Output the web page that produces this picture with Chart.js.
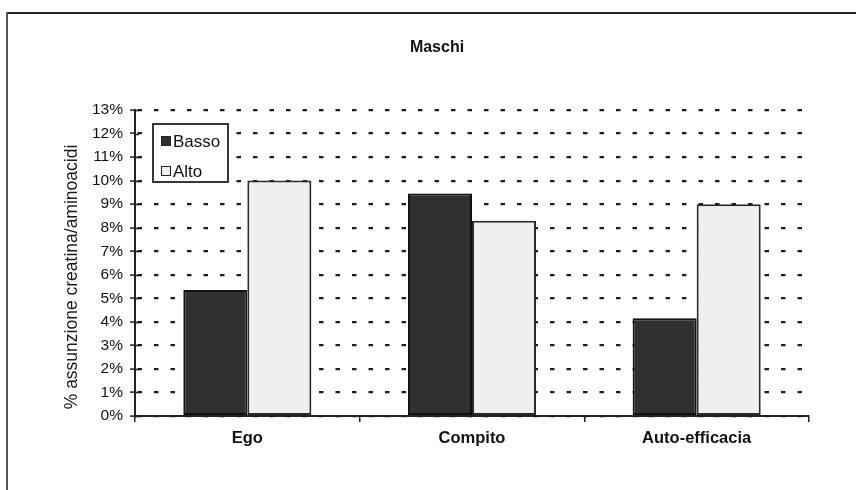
<!DOCTYPE html>
<html>
<head>
<meta charset="utf-8">
<script src="https://cdn.jsdelivr.net/npm/chart.js@4/dist/chart.umd.min.js"></script>
<style>
  html, body { margin: 0; padding: 0; background: #ffffff; }
  #wrap { width: 856px; height: 490px; position: relative; }
</style>
</head>
<body>
<div id="wrap"><canvas id="c" width="856" height="490"></canvas></div>
<script>
// Chart content
const chartTitle = 'Maschi';
const yAxisTitle = '% assunzione creatina/aminoacidi';
const categories = ['Ego', 'Compito', 'Auto-efficacia'];
const seriesNames = ['Basso', 'Alto'];
const bassoValues = [5.35, 9.45, 4.15];   // percent
const altoValues = [10.0, 8.3, 9.0];      // percent
const yTickValues = [0, 1, 2, 3, 4, 5, 6, 7, 8, 9, 10, 11, 12, 13];

const FONT = "'Liberation Sans', Arial, sans-serif";

// Frame, title, axis title, inner tick halves and boxed legend
const decorations = {
  id: 'decorations',
  beforeDraw(chart) {
    const ctx = chart.ctx;
    ctx.save();
    ctx.fillStyle = '#ffffff';
    ctx.fillRect(0, 0, chart.width, chart.height);
    ctx.strokeStyle = '#222222';
    ctx.lineWidth = 2;
    ctx.beginPath();
    ctx.moveTo(6, 13);
    ctx.lineTo(chart.width, 13);
    ctx.stroke();
    ctx.strokeStyle = '#555555';
    ctx.beginPath();
    ctx.moveTo(7, 12);
    ctx.lineTo(7, chart.height);
    ctx.stroke();
    ctx.restore();
  },
  afterDraw(chart) {
    const ctx = chart.ctx;
    const y = chart.scales.y;
    const area = chart.chartArea;
    ctx.save();
    // title
    ctx.fillStyle = '#111111';
    ctx.font = 'bold 16px ' + FONT;
    ctx.textAlign = 'center';
    ctx.textBaseline = 'middle';
    ctx.fillText(chartTitle, 437, 48);
    // y axis title
    ctx.save();
    ctx.translate(72, 277);
    ctx.rotate(-Math.PI / 2);
    ctx.font = '17.5px ' + FONT;
    ctx.fillStyle = '#1a1a1a';
    ctx.fillText(yAxisTitle, 0, 0);
    ctx.restore();
    // inner halves of the y tick marks
    ctx.strokeStyle = '#222222';
    ctx.lineWidth = 1.5;
    ctx.beginPath();
    yTickValues.forEach(v => {
      const py = Math.round(y.getPixelForValue(v)) + 0.5;
      ctx.moveTo(area.left, py);
      ctx.lineTo(area.left + 4, py);
    });
    ctx.stroke();
    // legend box
    const lx = 153, ly = 124, lw = 75, lh = 58;
    ctx.fillStyle = '#ffffff';
    ctx.fillRect(lx, ly, lw, lh);
    ctx.strokeStyle = '#222222';
    ctx.lineWidth = 1.8;
    ctx.strokeRect(lx, ly, lw, lh);
    ctx.font = '17px ' + FONT;
    ctx.textAlign = 'left';
    ctx.textBaseline = 'middle';
    chart.data.datasets.forEach((ds, i) => {
      const cy = 141 + i * 30;
      ctx.fillStyle = ds.backgroundColor;
      ctx.fillRect(161.5, cy - 4.5, 9, 9);
      ctx.strokeStyle = '#222222';
      ctx.lineWidth = 1;
      ctx.strokeRect(161.5, cy - 4.5, 9, 9);
      ctx.fillStyle = '#111111';
      ctx.fillText(ds.label, 173, cy + 1);
    });
    ctx.restore();
  }
};

new Chart(document.getElementById('c'), {
  type: 'bar',
  data: {
    labels: categories,
    datasets: [
      {
        label: seriesNames[0],
        data: bassoValues,
        backgroundColor: '#303030',
        borderColor: '#111111',
        borderWidth: 2,
        borderSkipped: false,
        categoryPercentage: 0.57,
        barPercentage: 1.0
      },
      {
        label: seriesNames[1],
        data: altoValues,
        backgroundColor: '#efefef',
        borderColor: '#2a2a2a',
        borderWidth: 2,
        borderSkipped: false,
        categoryPercentage: 0.57,
        barPercentage: 1.0
      }
    ]
  },
  options: {
    responsive: false,
    animation: false,
    devicePixelRatio: 1,
    layout: { padding: { top: 110, right: 47, bottom: 0, left: 0 } },
    plugins: {
      legend: { display: false },
      title: { display: false },
      tooltip: { enabled: false }
    },
    scales: {
      x: {
        afterFit(scale) { scale.height = 74; },
        grid: {
          display: true,
          drawOnChartArea: false,
          drawTicks: true,
          tickLength: 6,
          color: '#222222',
          lineWidth: 1.5
        },
        border: { display: true, color: '#222222', width: 2 },
        ticks: {
          color: '#111111',
          padding: 7,
          font: { family: FONT, size: 16.5, weight: 'bold' }
        }
      },
      y: {
        min: 0,
        max: 13,
        afterFit(scale) { scale.width = 135; },
        afterBuildTicks(scale) { scale.ticks = yTickValues.map(v => ({ value: v })); },
        grid: {
          display: true,
          drawOnChartArea: true,
          drawTicks: true,
          tickLength: 5,
          color: '#1e1e1e',
          lineWidth: 2.2,
          tickBorderDash: [],
          tickWidth: 1.5
        },
        border: { display: true, color: '#222222', width: 2, dash: [4.5, 12], dashOffset: -1.5 },
        ticks: {
          color: '#111111',
          padding: 7,
          font: { family: FONT, size: 15.5 },
          callback: v => v + '%'
        }
      }
    }
  },
  plugins: [decorations]
});
</script>
</body>
</html>
